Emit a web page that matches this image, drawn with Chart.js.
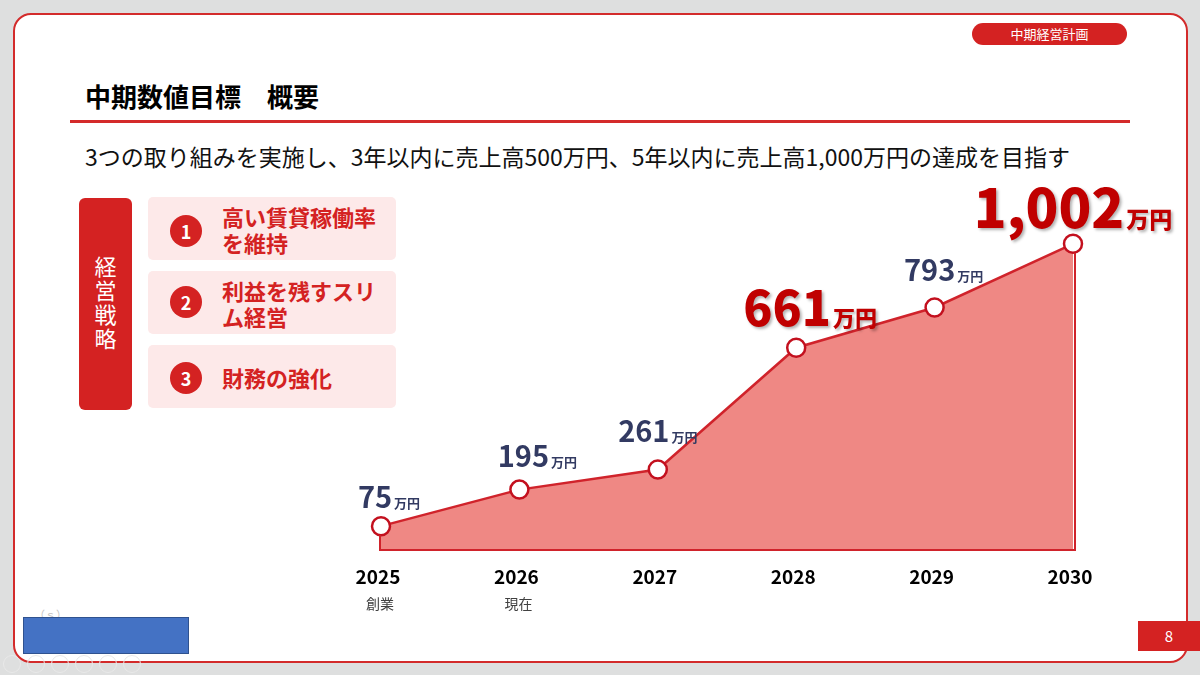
<!DOCTYPE html>
<html lang="ja">
<head>
<meta charset="utf-8">
<script src="https://cdn.jsdelivr.net/npm/chart.js@4.4.1/dist/chart.umd.min.js"></script>
<style>
  body { margin: 0; width: 1200px; height: 675px; background: #dedfdf; overflow: hidden;
         font-family: "Noto Sans CJK JP", "Noto Sans", sans-serif; }
  .abs { position: absolute; }
  #card { left: 13px; top: 13px; width: 1171px; height: 646px; background: #fff;
          border: 2px solid #d32b2b; border-radius: 18px; }
  #pill { left: 972px; top: 23px; width: 155px; height: 22px; border-radius: 11px; background: #d42222;
          color: #fff; font-size: 13px; line-height: 22px; text-align: center; }
  #title { left: 85px; top: 81px; font-size: 26px; font-weight: 700; line-height: 30px; color: #000; }
  #rule { left: 70px; top: 120px; width: 1060px; height: 3px; background: #d42a2a; }
  #lead { left: 85px; top: 140px; font-size: 23px; line-height: 32px; color: #111; white-space: nowrap; }
  #strategy { left: 79px; top: 198px; width: 53px; height: 212px; background: #d42222; border-radius: 6px;
              color: #fff; font-size: 22px; display: flex; align-items: center; justify-content: center; }
  #strategy span { writing-mode: vertical-rl; text-orientation: upright; letter-spacing: 2px; }
  .item { left: 148px; width: 248px; height: 63px; background: #fde9e9; border-radius: 5px; }
  .num { position: absolute; left: 22px; width: 32px; height: 32px; border-radius: 50%; background: #d42222;
         color: #fff; font-weight: 700; font-size: 18px; line-height: 32px; text-align: center; }
  .txt { position: absolute; left: 74px; color: #d42222; font-weight: 700; font-size: 22px; line-height: 26px; }
  #page { left: 1138px; top: 621px; width: 62px; height: 30px; background: #d42222; color: #fff;
          font-size: 15px; line-height: 30px; text-align: center; }
  #blue { left: 23px; top: 617px; width: 164px; height: 35px; background: #4472c4; border: 1px solid #2f528f; }
  #faint { left: 34px; top: 606px; font-size: 11px; color: #c4c4c4; }
  .icon { top: 655px; width: 16px; height: 16px; border: 1px solid #e9e9e9; border-radius: 50%; }
  canvas { position: absolute; left: 0; top: 0; }
</style>
</head>
<body>
<div id="card" class="abs"></div>
<div id="pill" class="abs">中期経営計画</div>
<div id="title" class="abs">中期数値目標　概要</div>
<div id="rule" class="abs"></div>
<div id="lead" class="abs">3つの取り組みを実施し、3年以内に売上高500万円、5年以内に売上高1,000万円の達成を目指す</div>
<div id="strategy" class="abs"><span>経営戦略</span></div>
<div class="abs item" style="top:197px"><div class="num" style="top:18px">1</div><div class="txt" style="top:6px">高い賃貸稼働率<br>を維持</div></div>
<div class="abs item" style="top:271px"><div class="num" style="top:15px">2</div><div class="txt" style="top:6px">利益を残すスリ<br>ム経営</div></div>
<div class="abs item" style="top:345px"><div class="num" style="top:17px">3</div><div class="txt" style="top:19px">財務の強化</div></div>
<div id="faint" class="abs">（ｓ）</div>
<div id="blue" class="abs"></div>
<div id="page" class="abs">8</div>
<div class="abs icon" style="left:3px"></div>
<div class="abs icon" style="left:27px"></div>
<div class="abs icon" style="left:51px"></div>
<div class="abs icon" style="left:75px"></div>
<div class="abs icon" style="left:99px"></div>
<div class="abs icon" style="left:123px"></div>
<canvas id="chart" width="1200" height="675"></canvas>

<script>
// data
const years = ["2025", "2026", "2027", "2028", "2029", "2030"];
const yearNotes = ["創業", "現在", "", "", "", ""];
const sales = [75, 195, 261, 661, 793, 1002];
const unit = "万円";

// label styling per point
const labelSize = [29, 29, 29, 48, 29, 54];
const unitSize = [13, 13, 13, 22, 13, 23];
const highlight = [false, false, false, true, false, true];
const labelDx = [8, 18, 0, 14, 9, 0];
const labelDy = [18, 23, 28, 22, 26, 16];

const NUM_FONT = '"Noto Sans CJK JP", "Noto Sans", sans-serif';

// red outline along the bottom and sides of the filled area
const areaEdges = {
  id: "areaEdges",
  afterDatasetsDraw(chart) {
    const { ctx } = chart;
    const pts = chart.getDatasetMeta(0).data;
    const base = chart.scales.y.getPixelForValue(0);
    const first = pts[0], last = pts[pts.length - 1];
    ctx.save();
    ctx.strokeStyle = "#d0232b";
    ctx.lineWidth = 2;
    ctx.beginPath();
    ctx.moveTo(first.x - 1, first.y + 9);
    ctx.lineTo(first.x - 1, base + 1);
    ctx.lineTo(last.x + 2, base + 1);
    ctx.lineTo(last.x + 2, last.y + 9);
    ctx.stroke();
    ctx.restore();
  }
};

// value labels "75万円" etc.
const valueLabels = {
  id: "valueLabels",
  afterDatasetsDraw(chart) {
    const { ctx } = chart;
    const pts = chart.getDatasetMeta(0).data;
    ctx.save();
    ctx.textBaseline = "alphabetic";
    ctx.textAlign = "left";
    pts.forEach((p, i) => {
      const num = sales[i].toLocaleString("en-US");
      const color = highlight[i] ? "#c00000" : "#323a62";
      const weight = highlight[i] ? 900 : 700;
      const numFont = `${weight} ${labelSize[i]}px ${NUM_FONT}`;
      const unitFont = `${weight} ${unitSize[i]}px ${NUM_FONT}`;
      ctx.font = numFont;
      const nw = ctx.measureText(num).width;
      ctx.font = unitFont;
      const uw = ctx.measureText(unit).width;
      const total = nw + 2 + uw;
      const x0 = p.x + labelDx[i] - total / 2;
      const by = p.y - labelDy[i];
      if (highlight[i]) {
        ctx.shadowColor = "rgba(0,0,0,0.3)";
        ctx.shadowOffsetX = 2;
        ctx.shadowOffsetY = 2;
        ctx.shadowBlur = 3;
      } else {
        ctx.shadowColor = "transparent";
      }
      ctx.fillStyle = color;
      ctx.font = numFont;
      ctx.fillText(num, x0, by);
      ctx.font = unitFont;
      ctx.fillText(unit, x0 + nw + 2, by);
    });
    ctx.restore();
  }
};

// year labels + notes under the axis
const yearLabels = {
  id: "yearLabels",
  afterDraw(chart) {
    const { ctx } = chart;
    const x = chart.scales.x;
    const base = chart.scales.y.getPixelForValue(0);
    ctx.save();
    ctx.textAlign = "center";
    ctx.textBaseline = "alphabetic";
    years.forEach((y, i) => {
      const px = x.getPixelForValue(i);
      ctx.fillStyle = "#000";
      ctx.font = `700 19px ${NUM_FONT}`;
      ctx.fillText(y, px - 3, base + 35);
      if (yearNotes[i]) {
        ctx.fillStyle = "#404040";
        ctx.font = `400 14px ${NUM_FONT}`;
        ctx.fillText(yearNotes[i], px - 1, base + 60);
      }
    });
    ctx.restore();
  }
};

new Chart(document.getElementById("chart"), {
  type: "line",
  data: {
    labels: years,
    datasets: [{
      data: sales,
      borderColor: "#d0232b",
      borderWidth: 2.5,
      backgroundColor: "#ef8884",
      fill: "origin",
      tension: 0,
      pointRadius: 9,
      pointBackgroundColor: "#ffffff",
      pointBorderColor: "#c3101e",
      pointBorderWidth: 2.5,
      clip: false
    }]
  },
  options: {
    responsive: false,
    animation: false,
    layout: { padding: { left: 381, right: 127, top: 214, bottom: 126 } },
    scales: {
      x: { display: false, offset: false },
      y: { display: false, min: 0, max: 1100 }
    },
    plugins: { legend: { display: false }, tooltip: { enabled: false } }
  },
  plugins: [areaEdges, valueLabels, yearLabels]
});
</script>
</body>
</html>
